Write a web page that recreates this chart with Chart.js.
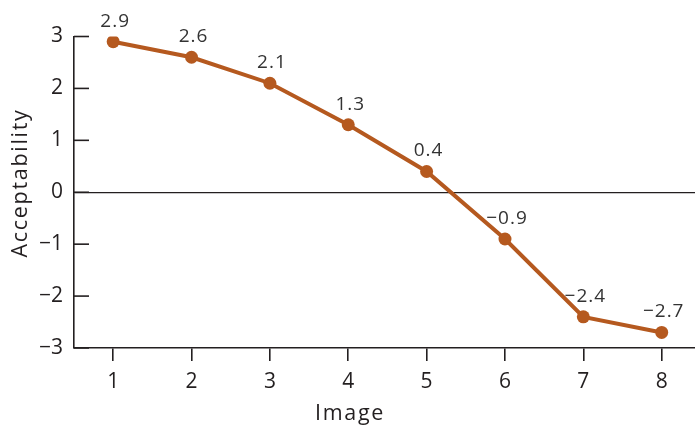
<!DOCTYPE html>
<html>
<head>
<meta charset="utf-8">
<script src="https://cdn.jsdelivr.net/npm/chart.js@4"></script>
<style>
  html, body { margin: 0; padding: 0; background: #ffffff; }
  #wrap { width: 695px; height: 428px; }
</style>
</head>
<body>
<div id="wrap"><canvas id="c" width="695" height="428"></canvas></div>
<script>
const categories = [1, 2, 3, 4, 5, 6, 7, 8];
const acceptability = [2.9, 2.6, 2.1, 1.3, 0.4, -0.9, -2.4, -2.7];
const yTickValues = [-3, -2, -1, 0, 1, 2, 3];
const xTitle = 'Image';
const yTitle = 'Acceptability';

const LINE = '#B5591F';
const INK = '#231F20';
const FONT = '"Open Sans", "Noto Sans", sans-serif';

const fmt = v => (v < 0 ? '\u2212' + Math.abs(v) : String(v));

const decor = {
  id: 'decor',
  afterDraw(chart) {
    const ctx = chart.ctx;
    const y = chart.scales.y;
    const left = chart.chartArea.left;
    ctx.save();
    // inward y tick marks
    ctx.strokeStyle = INK;
    ctx.lineWidth = 1.6;
    yTickValues.forEach(v => {
      const py = y.getPixelForValue(v);
      ctx.beginPath();
      ctx.moveTo(left, py);
      ctx.lineTo(left + 15, py);
      ctx.stroke();
    });
    // data labels
    const meta = chart.getDatasetMeta(0);
    ctx.fillStyle = '#333333';
    ctx.font = '19px ' + FONT;
    ctx.letterSpacing = '1px';
    ctx.textAlign = 'center';
    ctx.textBaseline = 'alphabetic';
    meta.data.forEach((pt, i) => {
      ctx.fillText(fmt(acceptability[i]), pt.x + 2, pt.y - 15);
    });
    // axis titles
    ctx.fillStyle = INK;
    ctx.font = '21.5px ' + FONT;
    ctx.letterSpacing = '1.7px';
    ctx.textAlign = 'center';
    ctx.fillText(xTitle, 350, 420);
    ctx.translate(27, 183);
    ctx.rotate(-Math.PI / 2);
    ctx.fillText(yTitle, 0, 0);
    ctx.restore();
  }
};

new Chart(document.getElementById('c'), {
  type: 'line',
  data: {
    datasets: [{
      data: categories.map((c, i) => ({ x: c, y: acceptability[i] })),
      borderColor: LINE,
      backgroundColor: LINE,
      borderWidth: 4,
      pointRadius: 6.5,
      pointBorderWidth: 0,
      pointBackgroundColor: LINE,
      tension: 0
    }]
  },
  options: {
    responsive: false,
    animation: false,
    devicePixelRatio: 1,
    layout: { autoPadding: false, padding: { top: 36.5, right: 0, left: 0, bottom: 0 } },
    plugins: { legend: { display: false }, tooltip: { enabled: false } },
    scales: {
      x: {
        type: 'linear',
        min: 0.5,
        max: 8.425,
        afterBuildTicks: s => { s.ticks = categories.map(v => ({ value: v })); },
        afterFit: s => { s.height = 80; s.paddingLeft = 0; s.paddingRight = 0; },
        grid: { display: true, drawOnChartArea: false, drawTicks: true, tickLength: 13, color: INK, lineWidth: 1.6 },
        border: { display: true, color: INK, width: 1.6 },
        ticks: { color: INK, font: { family: FONT, size: 21 }, padding: 8, maxRotation: 0 }
      },
      y: {
        min: -3,
        max: 3,
        afterBuildTicks: s => { s.ticks = yTickValues.map(v => ({ value: v })); },
        afterFit: s => { s.width = 74; s.paddingTop = 0; s.paddingBottom = 0; },
        grid: {
          drawTicks: false,
          color: c => (c.tick && c.tick.value === 0 ? INK : 'rgba(0,0,0,0)'),
          lineWidth: 1.3
        },
        border: { display: true, color: INK, width: 1.6 },
        ticks: { color: INK, font: { family: FONT, size: 21 }, padding: 11, callback: v => fmt(v) }
      }
    }
  },
  plugins: [decor]
});
</script>
</body>
</html>
